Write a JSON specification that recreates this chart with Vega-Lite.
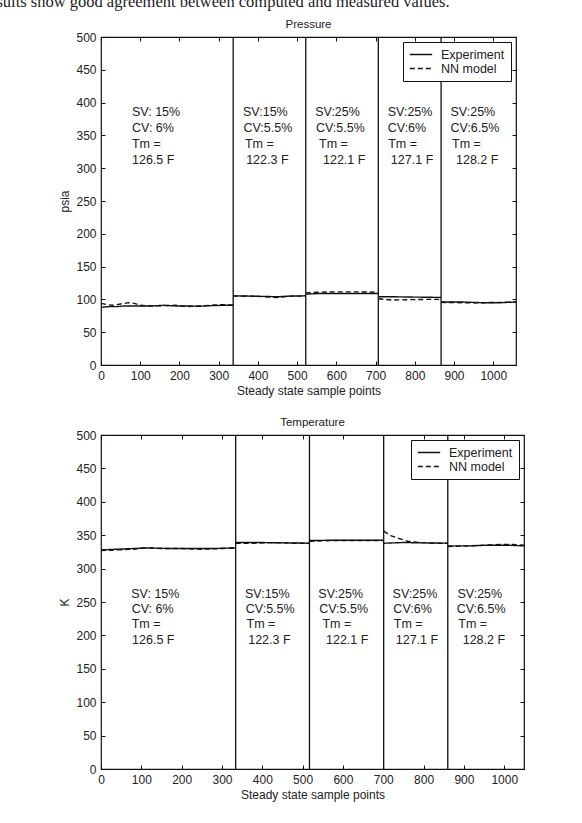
{
  "$schema": "https://vega.github.io/schema/vega-lite/v6.json",
  "background": "white",
  "autosize": {"type": "none"},
  "padding": {"left": 101, "top": 37, "right": 481, "bottom": 786},
  "title": {"text": "sults show good agreement between computed and measured values.", "anchor": "start", "font": "Liberation Serif", "fontSize": 16.5, "fontWeight": "normal", "color": "#222", "baseline": "alphabetic", "offset": 0, "dx": -62, "dy": 5.5},
  "spacing": 18,
  "datasets": {
    "pressure": [
      {"series": "Experiment", "seg": 1, "x": 0, "y": 88}, {"series": "Experiment", "seg": 1, "x": 20, "y": 89}, {"series": "Experiment", "seg": 1, "x": 40, "y": 89}, {"series": "Experiment", "seg": 1, "x": 60, "y": 90}, {"series": "Experiment", "seg": 1, "x": 80, "y": 90}, {"series": "Experiment", "seg": 1, "x": 100, "y": 90}, {"series": "Experiment", "seg": 1, "x": 130, "y": 90}, {"series": "Experiment", "seg": 1, "x": 160, "y": 91}, {"series": "Experiment", "seg": 1, "x": 190, "y": 90}, {"series": "Experiment", "seg": 1, "x": 220, "y": 90}, {"series": "Experiment", "seg": 1, "x": 250, "y": 89.5}, {"series": "Experiment", "seg": 1, "x": 280, "y": 90.5}, {"series": "Experiment", "seg": 1, "x": 310, "y": 91}, {"series": "Experiment", "seg": 1, "x": 337, "y": 91},
      {"series": "NN model", "seg": 1, "x": 0, "y": 94}, {"series": "NN model", "seg": 1, "x": 15, "y": 92}, {"series": "NN model", "seg": 1, "x": 30, "y": 91}, {"series": "NN model", "seg": 1, "x": 50, "y": 93}, {"series": "NN model", "seg": 1, "x": 70, "y": 95}, {"series": "NN model", "seg": 1, "x": 85, "y": 94}, {"series": "NN model", "seg": 1, "x": 100, "y": 91}, {"series": "NN model", "seg": 1, "x": 130, "y": 90}, {"series": "NN model", "seg": 1, "x": 160, "y": 90.5}, {"series": "NN model", "seg": 1, "x": 190, "y": 91}, {"series": "NN model", "seg": 1, "x": 220, "y": 89}, {"series": "NN model", "seg": 1, "x": 250, "y": 90}, {"series": "NN model", "seg": 1, "x": 280, "y": 91}, {"series": "NN model", "seg": 1, "x": 310, "y": 92}, {"series": "NN model", "seg": 1, "x": 337, "y": 91},
      {"series": "Experiment", "seg": 2, "x": 337, "y": 105.5}, {"series": "Experiment", "seg": 2, "x": 380, "y": 105}, {"series": "Experiment", "seg": 2, "x": 420, "y": 104.5}, {"series": "Experiment", "seg": 2, "x": 450, "y": 104}, {"series": "Experiment", "seg": 2, "x": 480, "y": 105}, {"series": "Experiment", "seg": 2, "x": 522, "y": 105.5},
      {"series": "NN model", "seg": 2, "x": 337, "y": 105}, {"series": "NN model", "seg": 2, "x": 380, "y": 105}, {"series": "NN model", "seg": 2, "x": 420, "y": 104}, {"series": "NN model", "seg": 2, "x": 450, "y": 103}, {"series": "NN model", "seg": 2, "x": 480, "y": 105}, {"series": "NN model", "seg": 2, "x": 522, "y": 105},
      {"series": "Experiment", "seg": 3, "x": 522, "y": 108}, {"series": "Experiment", "seg": 3, "x": 560, "y": 109}, {"series": "Experiment", "seg": 3, "x": 600, "y": 109}, {"series": "Experiment", "seg": 3, "x": 650, "y": 109}, {"series": "Experiment", "seg": 3, "x": 707, "y": 109},
      {"series": "NN model", "seg": 3, "x": 522, "y": 110}, {"series": "NN model", "seg": 3, "x": 560, "y": 111}, {"series": "NN model", "seg": 3, "x": 600, "y": 111.5}, {"series": "NN model", "seg": 3, "x": 650, "y": 111.5}, {"series": "NN model", "seg": 3, "x": 707, "y": 111},
      {"series": "Experiment", "seg": 4, "x": 707, "y": 104}, {"series": "Experiment", "seg": 4, "x": 750, "y": 104}, {"series": "Experiment", "seg": 4, "x": 800, "y": 103.5}, {"series": "Experiment", "seg": 4, "x": 867, "y": 103},
      {"series": "NN model", "seg": 4, "x": 707, "y": 101}, {"series": "NN model", "seg": 4, "x": 740, "y": 99}, {"series": "NN model", "seg": 4, "x": 780, "y": 99.5}, {"series": "NN model", "seg": 4, "x": 830, "y": 100}, {"series": "NN model", "seg": 4, "x": 867, "y": 100},
      {"series": "Experiment", "seg": 5, "x": 867, "y": 96}, {"series": "Experiment", "seg": 5, "x": 920, "y": 96}, {"series": "Experiment", "seg": 5, "x": 970, "y": 95}, {"series": "Experiment", "seg": 5, "x": 1020, "y": 95}, {"series": "Experiment", "seg": 5, "x": 1058, "y": 96},
      {"series": "NN model", "seg": 5, "x": 867, "y": 95.5}, {"series": "NN model", "seg": 5, "x": 920, "y": 95}, {"series": "NN model", "seg": 5, "x": 970, "y": 95}, {"series": "NN model", "seg": 5, "x": 1020, "y": 95.5}, {"series": "NN model", "seg": 5, "x": 1058, "y": 96}
    ],
    "temperature": [
      {"series": "Experiment", "seg": 1, "x": 0, "y": 328}, {"series": "Experiment", "seg": 1, "x": 40, "y": 329}, {"series": "Experiment", "seg": 1, "x": 80, "y": 330}, {"series": "Experiment", "seg": 1, "x": 120, "y": 331}, {"series": "Experiment", "seg": 1, "x": 170, "y": 330}, {"series": "Experiment", "seg": 1, "x": 220, "y": 330}, {"series": "Experiment", "seg": 1, "x": 270, "y": 330}, {"series": "Experiment", "seg": 1, "x": 334, "y": 331},
      {"series": "NN model", "seg": 1, "x": 0, "y": 327}, {"series": "NN model", "seg": 1, "x": 40, "y": 328}, {"series": "NN model", "seg": 1, "x": 80, "y": 329}, {"series": "NN model", "seg": 1, "x": 100, "y": 331}, {"series": "NN model", "seg": 1, "x": 150, "y": 330}, {"series": "NN model", "seg": 1, "x": 200, "y": 330}, {"series": "NN model", "seg": 1, "x": 250, "y": 329}, {"series": "NN model", "seg": 1, "x": 300, "y": 330}, {"series": "NN model", "seg": 1, "x": 334, "y": 331},
      {"series": "Experiment", "seg": 2, "x": 334, "y": 339}, {"series": "Experiment", "seg": 2, "x": 400, "y": 339}, {"series": "Experiment", "seg": 2, "x": 460, "y": 338.5}, {"series": "Experiment", "seg": 2, "x": 517, "y": 338},
      {"series": "NN model", "seg": 2, "x": 334, "y": 338}, {"series": "NN model", "seg": 2, "x": 380, "y": 338}, {"series": "NN model", "seg": 2, "x": 430, "y": 339}, {"series": "NN model", "seg": 2, "x": 480, "y": 338}, {"series": "NN model", "seg": 2, "x": 517, "y": 338},
      {"series": "Experiment", "seg": 3, "x": 517, "y": 342}, {"series": "Experiment", "seg": 3, "x": 580, "y": 342.5}, {"series": "Experiment", "seg": 3, "x": 640, "y": 342.5}, {"series": "Experiment", "seg": 3, "x": 701, "y": 342.5},
      {"series": "NN model", "seg": 3, "x": 517, "y": 341}, {"series": "NN model", "seg": 3, "x": 580, "y": 342}, {"series": "NN model", "seg": 3, "x": 640, "y": 342}, {"series": "NN model", "seg": 3, "x": 701, "y": 342},
      {"series": "Experiment", "seg": 4, "x": 701, "y": 338}, {"series": "Experiment", "seg": 4, "x": 750, "y": 339}, {"series": "Experiment", "seg": 4, "x": 800, "y": 338.5}, {"series": "Experiment", "seg": 4, "x": 860, "y": 338},
      {"series": "NN model", "seg": 4, "x": 701, "y": 356}, {"series": "NN model", "seg": 4, "x": 720, "y": 349}, {"series": "NN model", "seg": 4, "x": 740, "y": 345}, {"series": "NN model", "seg": 4, "x": 760, "y": 341}, {"series": "NN model", "seg": 4, "x": 790, "y": 339}, {"series": "NN model", "seg": 4, "x": 830, "y": 338}, {"series": "NN model", "seg": 4, "x": 860, "y": 338},
      {"series": "Experiment", "seg": 5, "x": 860, "y": 334}, {"series": "Experiment", "seg": 5, "x": 910, "y": 334}, {"series": "Experiment", "seg": 5, "x": 960, "y": 335}, {"series": "Experiment", "seg": 5, "x": 1010, "y": 335}, {"series": "Experiment", "seg": 5, "x": 1049, "y": 334},
      {"series": "NN model", "seg": 5, "x": 860, "y": 333}, {"series": "NN model", "seg": 5, "x": 910, "y": 334}, {"series": "NN model", "seg": 5, "x": 950, "y": 335}, {"series": "NN model", "seg": 5, "x": 990, "y": 336}, {"series": "NN model", "seg": 5, "x": 1020, "y": 336}, {"series": "NN model", "seg": 5, "x": 1049, "y": 335}
    ],
    "pBounds": [{"x": 337}, {"x": 522}, {"x": 707}, {"x": 867}],
    "tBounds": [{"x": 334}, {"x": 517}, {"x": 701}, {"x": 860}],
    "pText": [
      {"x": 79, "y": 386, "t": "SV: 15%"}, {"x": 79, "y": 361.6, "t": "CV: 6%"}, {"x": 79, "y": 337.2, "t": "Tm ="}, {"x": 79, "y": 312.8, "t": "126.5 F"},
      {"x": 362, "y": 386, "t": "SV:15%"}, {"x": 363, "y": 361.6, "t": "CV:5.5%"}, {"x": 367, "y": 337.2, "t": "Tm ="}, {"x": 370, "y": 312.8, "t": "122.3 F"},
      {"x": 546, "y": 386, "t": "SV:25%"}, {"x": 548, "y": 361.6, "t": "CV:5.5%"}, {"x": 556, "y": 337.2, "t": "Tm ="}, {"x": 566, "y": 312.8, "t": "122.1 F"},
      {"x": 731, "y": 386, "t": "SV:25%"}, {"x": 731, "y": 361.6, "t": "CV:6%"}, {"x": 732, "y": 337.2, "t": "Tm ="}, {"x": 739, "y": 312.8, "t": "127.1 F"},
      {"x": 891, "y": 386, "t": "SV:25%"}, {"x": 891, "y": 361.6, "t": "CV:6.5%"}, {"x": 895, "y": 337.2, "t": "Tm ="}, {"x": 905, "y": 312.8, "t": "128.2 F"}
    ],
    "tText": [
      {"x": 75, "y": 262.3, "t": "SV: 15%"}, {"x": 76, "y": 238.8, "t": "CV: 6%"}, {"x": 76, "y": 216.4, "t": "Tm ="}, {"x": 77, "y": 193.5, "t": "126.5 F"},
      {"x": 357, "y": 262.3, "t": "SV:15%"}, {"x": 359, "y": 238.8, "t": "CV:5.5%"}, {"x": 361, "y": 216.4, "t": "Tm ="}, {"x": 365, "y": 193.5, "t": "122.3 F"},
      {"x": 539, "y": 262.3, "t": "SV:25%"}, {"x": 541, "y": 238.8, "t": "CV:5.5%"}, {"x": 549, "y": 216.4, "t": "Tm ="}, {"x": 558, "y": 193.5, "t": "122.1 F"},
      {"x": 723, "y": 262.3, "t": "SV:25%"}, {"x": 725, "y": 238.8, "t": "CV:6%"}, {"x": 726, "y": 216.4, "t": "Tm ="}, {"x": 731, "y": 193.5, "t": "127.1 F"},
      {"x": 884, "y": 262.3, "t": "SV:25%"}, {"x": 882, "y": 238.8, "t": "CV:6.5%"}, {"x": 886, "y": 216.4, "t": "Tm ="}, {"x": 897, "y": 193.5, "t": "128.2 F"}
    ]
  },
  "vconcat": [
    {
      "title": {"text": "Pressure", "offset": 1},
      "width": 415,
      "height": 328,
      "resolve": {"axis": {"x": "independent", "y": "independent"}},
      "layer": [
        {
          "data": {"name": "pressure"},
          "mark": {"type": "line", "strokeWidth": 1.4, "color": "#111"},
          "encoding": {
            "x": {"field": "x", "type": "quantitative", "scale": {"domain": [0, 1058], "nice": false, "zero": false}, "axis": {"orient": "bottom", "title": "Steady state sample points", "format": "d", "values": [0, 100, 200, 300, 400, 500, 600, 700, 800, 900, 1000]}},
            "y": {"field": "y", "type": "quantitative", "scale": {"domain": [0, 500], "nice": false}, "axis": {"orient": "left", "title": "psia", "values": [0, 50, 100, 150, 200, 250, 300, 350, 400, 450, 500]}},
            "strokeDash": {"field": "series", "type": "nominal", "scale": {"domain": ["Experiment", "NN model"], "range": [[1, 0], [5, 3]]}, "legend": {"title": null, "orient": "top-right"}},
            "detail": {"field": "seg"}
          }
        },
        {
          "data": {"name": "pBounds"},
          "mark": {"type": "rule", "color": "#111", "strokeWidth": 1.3},
          "encoding": {
            "x": {"field": "x", "type": "quantitative", "scale": {"domain": [0, 1058], "nice": false, "zero": false}, "axis": {"orient": "top", "title": null, "labels": false, "values": [0, 100, 200, 300, 400, 500, 600, 700, 800, 900, 1000]}}
          }
        },
        {
          "data": {"name": "pText"},
          "mark": {"type": "text", "align": "left", "baseline": "middle", "fontSize": 12.5, "color": "#222"},
          "encoding": {
            "x": {"field": "x", "type": "quantitative", "scale": {"domain": [0, 1058], "nice": false, "zero": false}, "axis": null},
            "y": {"field": "y", "type": "quantitative", "scale": {"domain": [0, 500], "nice": false}, "axis": {"orient": "right", "title": null, "labels": false, "values": [0, 50, 100, 150, 200, 250, 300, 350, 400, 450, 500]}},
            "text": {"field": "t"}
          }
        }
      ]
    },
    {
      "title": {"text": "Temperature", "offset": 1},
      "width": 423,
      "height": 334,
      "resolve": {"axis": {"x": "independent", "y": "independent"}},
      "layer": [
        {
          "data": {"name": "temperature"},
          "mark": {"type": "line", "strokeWidth": 1.4, "color": "#111"},
          "encoding": {
            "x": {"field": "x", "type": "quantitative", "scale": {"domain": [0, 1049], "nice": false, "zero": false}, "axis": {"orient": "bottom", "title": "Steady state sample points", "format": "d", "values": [0, 100, 200, 300, 400, 500, 600, 700, 800, 900, 1000]}},
            "y": {"field": "y", "type": "quantitative", "scale": {"domain": [0, 500], "nice": false}, "axis": {"orient": "left", "title": "K", "values": [0, 50, 100, 150, 200, 250, 300, 350, 400, 450, 500]}},
            "strokeDash": {"field": "series", "type": "nominal", "scale": {"domain": ["Experiment", "NN model"], "range": [[1, 0], [5, 3]]}, "legend": {"title": null, "orient": "top-right"}},
            "detail": {"field": "seg"}
          }
        },
        {
          "data": {"name": "tBounds"},
          "mark": {"type": "rule", "color": "#111", "strokeWidth": 1.3},
          "encoding": {
            "x": {"field": "x", "type": "quantitative", "scale": {"domain": [0, 1049], "nice": false, "zero": false}, "axis": {"orient": "top", "title": null, "labels": false, "values": [0, 100, 200, 300, 400, 500, 600, 700, 800, 900, 1000]}}
          }
        },
        {
          "data": {"name": "tText"},
          "mark": {"type": "text", "align": "left", "baseline": "middle", "fontSize": 12.5, "color": "#222"},
          "encoding": {
            "x": {"field": "x", "type": "quantitative", "scale": {"domain": [0, 1049], "nice": false, "zero": false}, "axis": null},
            "y": {"field": "y", "type": "quantitative", "scale": {"domain": [0, 500], "nice": false}, "axis": {"orient": "right", "title": null, "labels": false, "values": [0, 50, 100, 150, 200, 250, 300, 350, 400, 450, 500]}},
            "text": {"field": "t"}
          }
        }
      ]
    }
  ],
  "resolve": {"scale": {"strokeDash": "independent"}},
  "config": {
    "font": "Liberation Sans",
    "view": {"stroke": "#111", "strokeWidth": 1.2},
    "axis": {"grid": false, "domain": false, "tickColor": "#111", "tickSize": -4, "tickWidth": 1, "labelColor": "#222", "labelFontSize": 12, "labelPadding": 9, "labelFlush": false, "titleFontSize": 12, "titleFontWeight": "normal", "titleColor": "#222", "titlePadding": 4},
    "title": {"fontSize": 11.5, "fontWeight": "normal", "color": "#222"},
    "legend": {"symbolType": "stroke", "symbolSize": 500, "symbolStrokeWidth": 1.3, "symbolStrokeColor": "#111", "labelFontSize": 12.5, "labelColor": "#222", "labelOffset": 8, "padding": 6, "rowPadding": 1, "clipHeight": 13, "offset": 5, "strokeColor": "#111", "fillColor": "#fff", "cornerRadius": 0}
  }
}
